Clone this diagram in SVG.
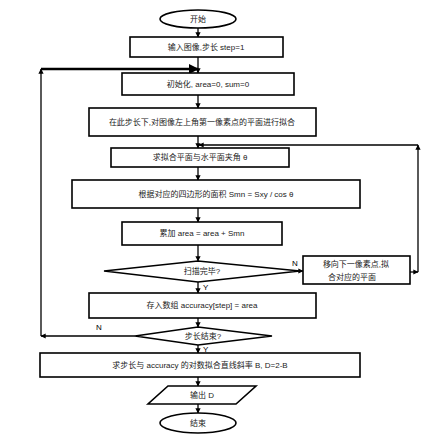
<svg xmlns="http://www.w3.org/2000/svg" width="445" height="442" viewBox="0 0 445 442">
<defs>
<marker id="ah" viewBox="0 0 10 10" refX="9" refY="5" markerWidth="4" markerHeight="4" orient="auto-start-reverse" markerUnits="strokeWidth">
<path d="M0,0 L10,5 L0,10 z" fill="#000"/>
</marker>
<style>
.s{fill:#fff;stroke:#000;stroke-width:1.6}
.c{fill:none;stroke:#000;stroke-width:1.3}
.t{font-family:"Liberation Sans","Noto Sans CJK SC",sans-serif;font-size:8px;fill:#222;text-anchor:middle;dominant-baseline:central}
.l{font-family:"Liberation Sans",sans-serif;font-size:8px;fill:#000}
</style>
</defs>
<rect width="445" height="442" fill="#fff"/>
<g id="connectors">
<line class="c" x1="198" y1="28" x2="198" y2="37" marker-end="url(#ah)"/>
<line class="c" x1="198" y1="57" x2="198" y2="73" marker-end="url(#ah)"/>
<line class="c" x1="198" y1="95" x2="198" y2="108" marker-end="url(#ah)"/>
<line class="c" x1="198" y1="136" x2="198" y2="148" marker-end="url(#ah)"/>
<line class="c" x1="198" y1="167" x2="198" y2="180" marker-end="url(#ah)"/>
<line class="c" x1="198" y1="208" x2="198" y2="222" marker-end="url(#ah)"/>
<line class="c" x1="198" y1="245" x2="198" y2="261" marker-end="url(#ah)"/>
<line class="c" x1="198" y1="282" x2="198" y2="293" marker-end="url(#ah)"/>
<line class="c" x1="198" y1="318" x2="198" y2="327" marker-end="url(#ah)"/>
<line class="c" x1="198" y1="345" x2="198" y2="353" marker-end="url(#ah)"/>
<line class="c" x1="198" y1="377" x2="198" y2="386" marker-end="url(#ah)"/>
<line class="c" x1="198" y1="404" x2="198" y2="413" marker-end="url(#ah)"/>
<line class="c" x1="300" y1="271" x2="303" y2="271" marker-end="url(#ah)"/>
<line class="c" x1="410" y1="272" x2="418" y2="272" marker-end="url(#ah)"/>
<line class="c" x1="418" y1="272" x2="418" y2="145" marker-end="url(#ah)"/>
<line class="c" x1="418" y1="145" x2="199" y2="145" marker-end="url(#ah)"/>
<line class="c" x1="135" y1="336" x2="41" y2="336" marker-end="url(#ah)"/>
<line class="c" x1="41" y1="336" x2="41" y2="69" marker-end="url(#ah)"/>
<line x1="41" y1="69" x2="198" y2="69" stroke="#000" stroke-width="2.5" marker-end="url(#ah)"/>
<text class="l" x="292" y="266">N</text>
<text class="l" x="203" y="290">Y</text>
<text class="l" x="96" y="330">N</text>
<text class="l" x="203" y="352">Y</text>
</g>
<g id="start"><ellipse class="s" cx="198" cy="19" rx="38" ry="9"/><text class="t" x="198" y="19">开始</text></g>
<g id="input"><rect class="s" x="130" y="37" width="153" height="20"/><text class="t" x="206" y="47">输入图像,步长 step=1</text></g>
<g id="init"><rect class="s" x="122" y="73" width="172" height="22"/><text class="t" x="208" y="84">初始化, area=0, sum=0</text></g>
<g id="fit"><rect class="s" x="89" y="108" width="227" height="28"/><text class="t" x="202" y="122">在此步长下,对图像左上角第一像素点的平面进行拟合</text></g>
<g id="angle"><rect class="s" x="111" y="148" width="178" height="19"/><text class="t" x="200" y="157.5">求拟合平面与水平面夹角 θ</text></g>
<g id="area"><rect class="s" x="72" y="180" width="288" height="28"/><text class="t" x="216" y="194">根据对应的四边形的面积 Smn = Sxy / cos θ</text></g>
<g id="sum"><rect class="s" x="122" y="222" width="160" height="23"/><text class="t" x="202" y="233.5">累加 area = area + Smn</text></g>
<g id="scan"><polygon class="s" points="104,271 198,261 300,271 198,282"/><text class="t" x="202" y="271">扫描完毕?</text></g>
<g id="next"><rect class="s" x="303" y="256" width="107" height="28"/><text class="t" x="356" y="264">移向下一像素点,拟</text><text class="t" x="352" y="277">合对应的平面</text></g>
<g id="store"><rect class="s" x="89" y="293" width="227" height="25"/><text class="t" x="202" y="305.5">存入数组 accuracy[step] = area</text></g>
<g id="stepend"><polygon class="s" points="135,336 198,327 272,336 198,345"/><text class="t" x="203" y="336">步长结束?</text></g>
<g id="slope"><rect class="s" x="40" y="353" width="320" height="24"/><text class="t" x="200" y="365">求步长与 accuracy 的对数拟合直线斜率 B, D=2-B</text></g>
<g id="output"><polygon class="s" points="168,386 256,386 236,404 148,404"/><text class="t" x="202" y="395">输出 D</text></g>
<g id="end"><ellipse class="s" cx="198" cy="423" rx="38" ry="10"/><text class="t" x="198" y="423">结束</text></g>
</svg>
